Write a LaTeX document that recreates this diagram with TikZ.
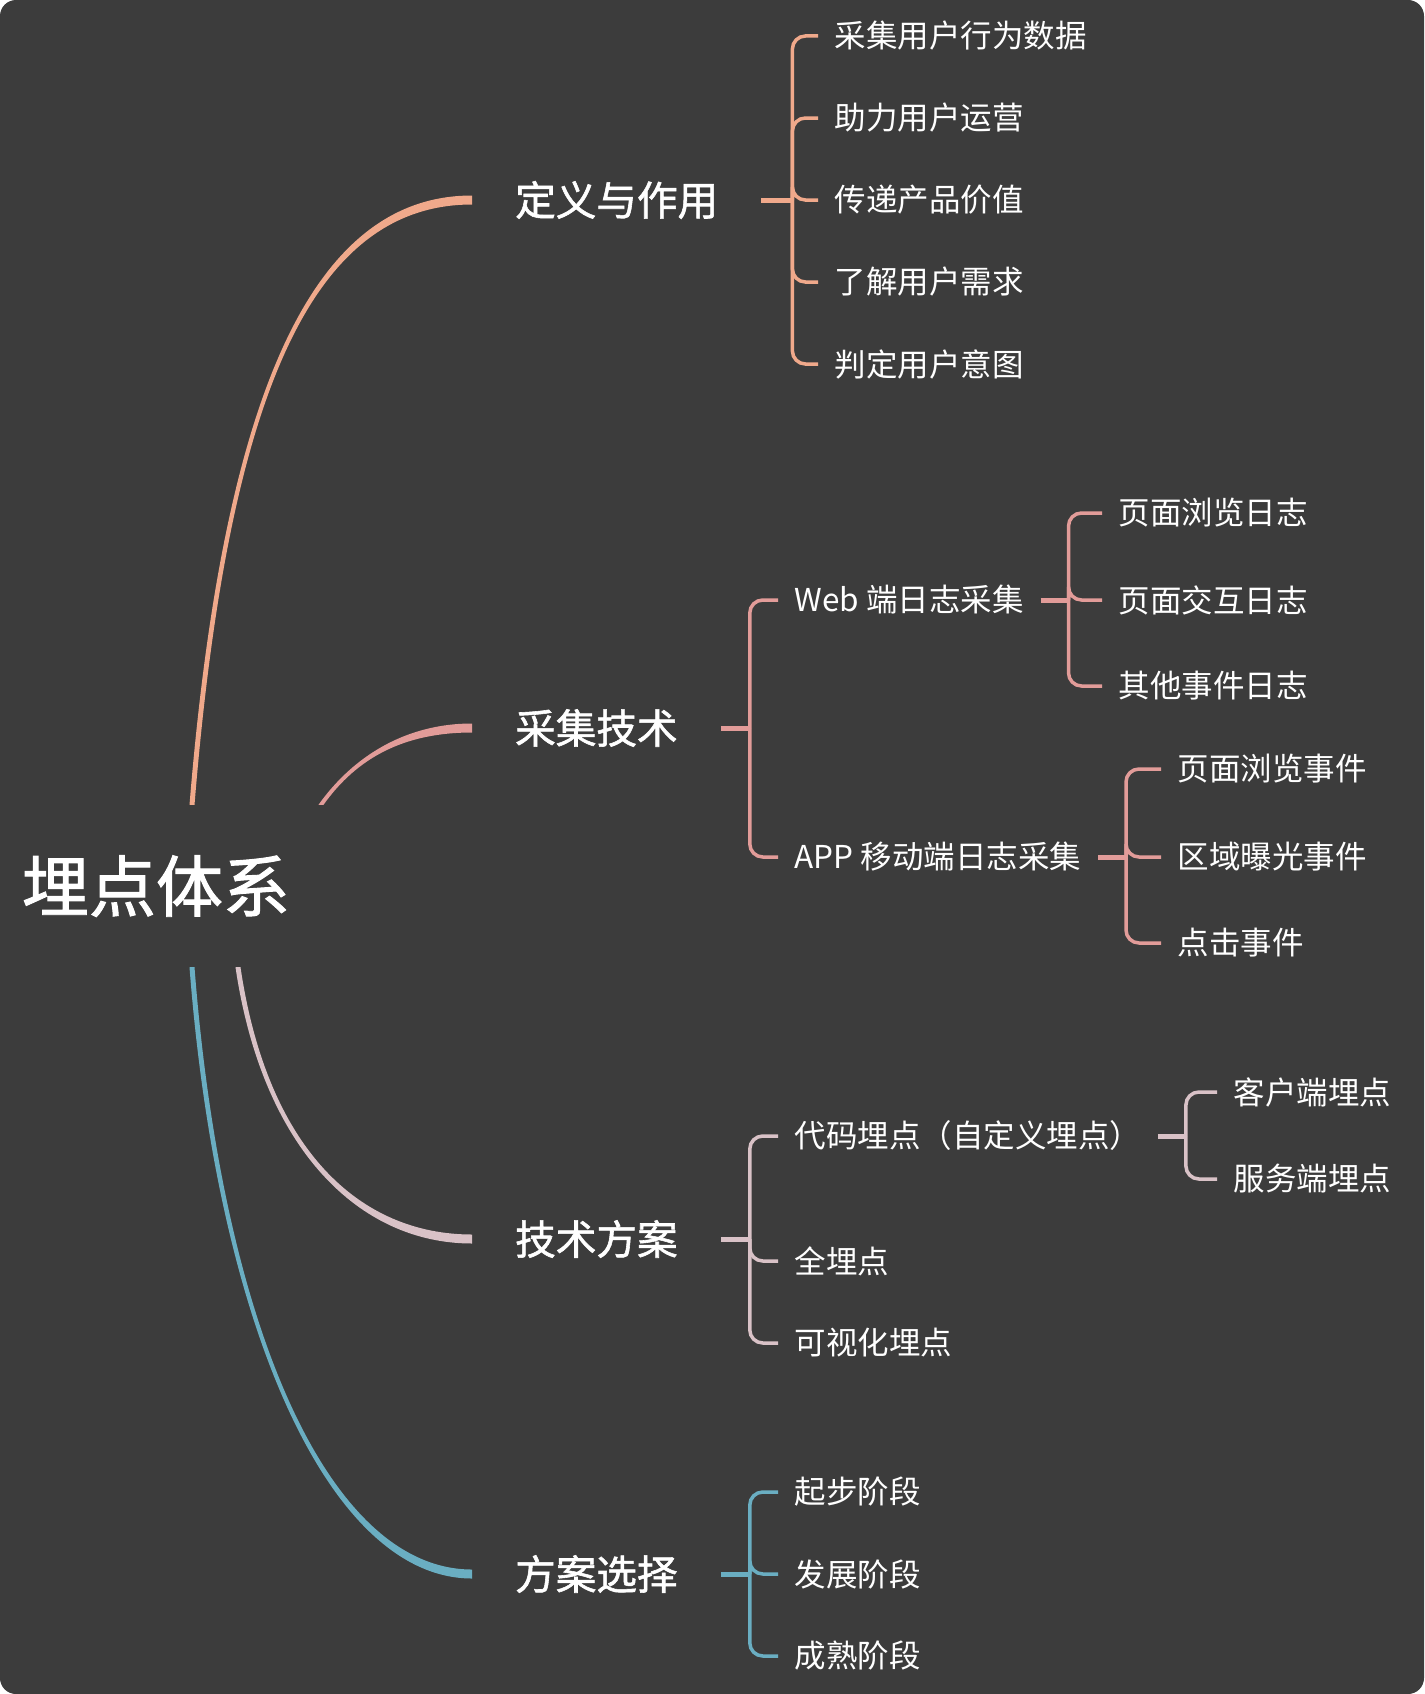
\documentclass[tikz,border=0pt]{standalone}
\usepackage{fontspec}
\newfontfamily\cjk{Noto Sans CJK SC}
\newfontfamily\cjkmed[FakeBold=1.4]{Noto Sans CJK SC}
\usetikzlibrary{calc}
\definecolor{bgc}{HTML}{3C3C3C}
\definecolor{cdef}{HTML}{F0A98B}
\definecolor{ccol}{HTML}{E29C99}
\definecolor{csch}{HTML}{D9C2C7}
\definecolor{csel}{HTML}{6AAEC2}
% tapered branch: colour, up(-1)/down(+1), start, control 1, control 2, end
\newcommand\branch[6]{%
  \fill[#1] ($(#3)+(-2.5,0)$) .. controls ($(#4)+(-2.5,0)$) and ($(#5)+(0,#2*4.5)$) .. ($(#6)+(0,#2*4.5)$)
    -- ($(#6)+(0,-#2*4.5)$) .. controls ($(#5)+(0,-#2*4.5)$) and ($(#4)+(2.5,0)$) .. ($(#3)+(2.5,0)$) -- cycle;}

\begin{document}
\begin{tikzpicture}[x=1pt,y=-1pt,
    root/.style={text=white,inner sep=0pt,minimum height=162pt,
                 font=\cjkmed\fontsize{67}{80}\selectfont},
    topic/.style={text=white,inner xsep=43pt,inner ysep=0pt,anchor=west,
                  font=\cjkmed\fontsize{40.6}{48}\selectfont},
    leaf/.style={text=white,inner xsep=16.5pt,inner ysep=0pt,anchor=west,
                 font=\cjk\fontsize{31.5}{38}\selectfont},
    stem/.style={line width=5pt},
    fork/.style={line width=3.5pt,rounded corners=13pt}]
  \useasboundingbox (0,0) rectangle (1424,1694);
  \fill[white] (0,0) rectangle (1424,1694);
  \fill[bgc,rounded corners=16pt] (0,0) rectangle (1424,1694);
  %-------------------------------------------------- root and topics
  \node[root] (root) at (156,886) {埋点体系};
  \node[topic] (def) at (472,200)  {定义与作用};
  \node[topic] (col) at (472,728)  {采集技术};
  \node[topic] (sch) at (472,1239) {技术方案};
  \node[topic] (sel) at (472,1574) {方案选择};
  \coordinate (rdef) at ([xshift=36pt]root.north);
  \coordinate (rcol) at ([xshift=165pt]root.north);
  \coordinate (rsch) at ([xshift=82pt]root.south);
  \coordinate (rsel) at ([xshift=36pt]root.south);
  \branch{cdef}{-1}{rdef}{225,400}{310,200}{def.west}
  \branch{ccol}{-1}{rcol}{355,757}{405,728}{col.west}
  \branch{csch}{1}{rsch}{265,1150}{360,1239}{sch.west}
  \branch{csel}{1}{rsel}{220,1330}{330,1574}{sel.west}
  %-------------------------------------------------- definition
  \node[leaf] (d1) at (818,36)  {采集用户行为数据};
  \node[leaf] (d2) at (818,118) {助力用户运营};
  \node[leaf] (d3) at (818,200) {传递产品价值};
  \node[leaf] (d4) at (818,282) {了解用户需求};
  \node[leaf] (d5) at (818,364) {判定用户意图};
  \coordinate (jdef) at ([xshift=31pt]def.east);
  \draw[cdef,stem] (def.east) -- (jdef);
  \foreach \c in {d1,d2,d3,d4,d5}
    \draw[cdef,fork] (jdef) |- (\c.west);
  %-------------------------------------------------- collection
  \node[leaf] (web) at (778,600) {Web 端日志采集};
  \node[leaf] (app) at (778,857) {APP 移动端日志采集};
  \coordinate (jcol) at ([xshift=29pt]col.east);
  \draw[ccol,stem] (col.east) -- (jcol);
  \foreach \c in {web,app}
    \draw[ccol,fork] (jcol) |- (\c.west);
  \node[leaf] (w1) at (1102,513) {页面浏览日志};
  \node[leaf] (w2) at (1102,600) {页面交互日志};
  \node[leaf] (w3) at (1102,686) {其他事件日志};
  \coordinate (jweb) at ([xshift=28pt]web.east);
  \draw[ccol,stem] (web.east) -- (jweb);
  \foreach \c in {w1,w2,w3}
    \draw[ccol,fork] (jweb) |- (\c.west);
  \node[leaf] (a1) at (1161,769) {页面浏览事件};
  \node[leaf] (a2) at (1161,857) {区域曝光事件};
  \node[leaf] (a3) at (1161,943) {点击事件};
  \coordinate (japp) at ([xshift=28pt]app.east);
  \draw[ccol,stem] (app.east) -- (japp);
  \foreach \c in {a1,a2,a3}
    \draw[ccol,fork] (japp) |- (\c.west);
  %-------------------------------------------------- schemes
  \node[leaf] (code) at (778,1136) {代码埋点（自定义埋点）};
  \node[leaf] (full) at (778,1261) {全埋点};
  \node[leaf] (vis)  at (778,1343) {可视化埋点};
  \coordinate (jsch) at ([xshift=29pt]sch.east);
  \draw[csch,stem] (sch.east) -- (jsch);
  \foreach \c in {code,full,vis}
    \draw[csch,fork] (jsch) |- (\c.west);
  \node[leaf] (k1) at (1217,1092) {客户端埋点};
  \node[leaf] (k2) at (1217,1179) {服务端埋点};
  \coordinate (jcode) at ([xshift=28pt]code.east);
  \draw[csch,stem] (code.east) -- (jcode);
  \foreach \c in {k1,k2}
    \draw[csch,fork] (jcode) |- (\c.west);
  %-------------------------------------------------- selection
  \node[leaf] (s1) at (778,1492) {起步阶段};
  \node[leaf] (s2) at (778,1574) {发展阶段};
  \node[leaf] (s3) at (778,1656) {成熟阶段};
  \coordinate (jsel) at ([xshift=29pt]sel.east);
  \draw[csel,stem] (sel.east) -- (jsel);
  \foreach \c in {s1,s2,s3}
    \draw[csel,fork] (jsel) |- (\c.west);
\end{tikzpicture}
\end{document}
